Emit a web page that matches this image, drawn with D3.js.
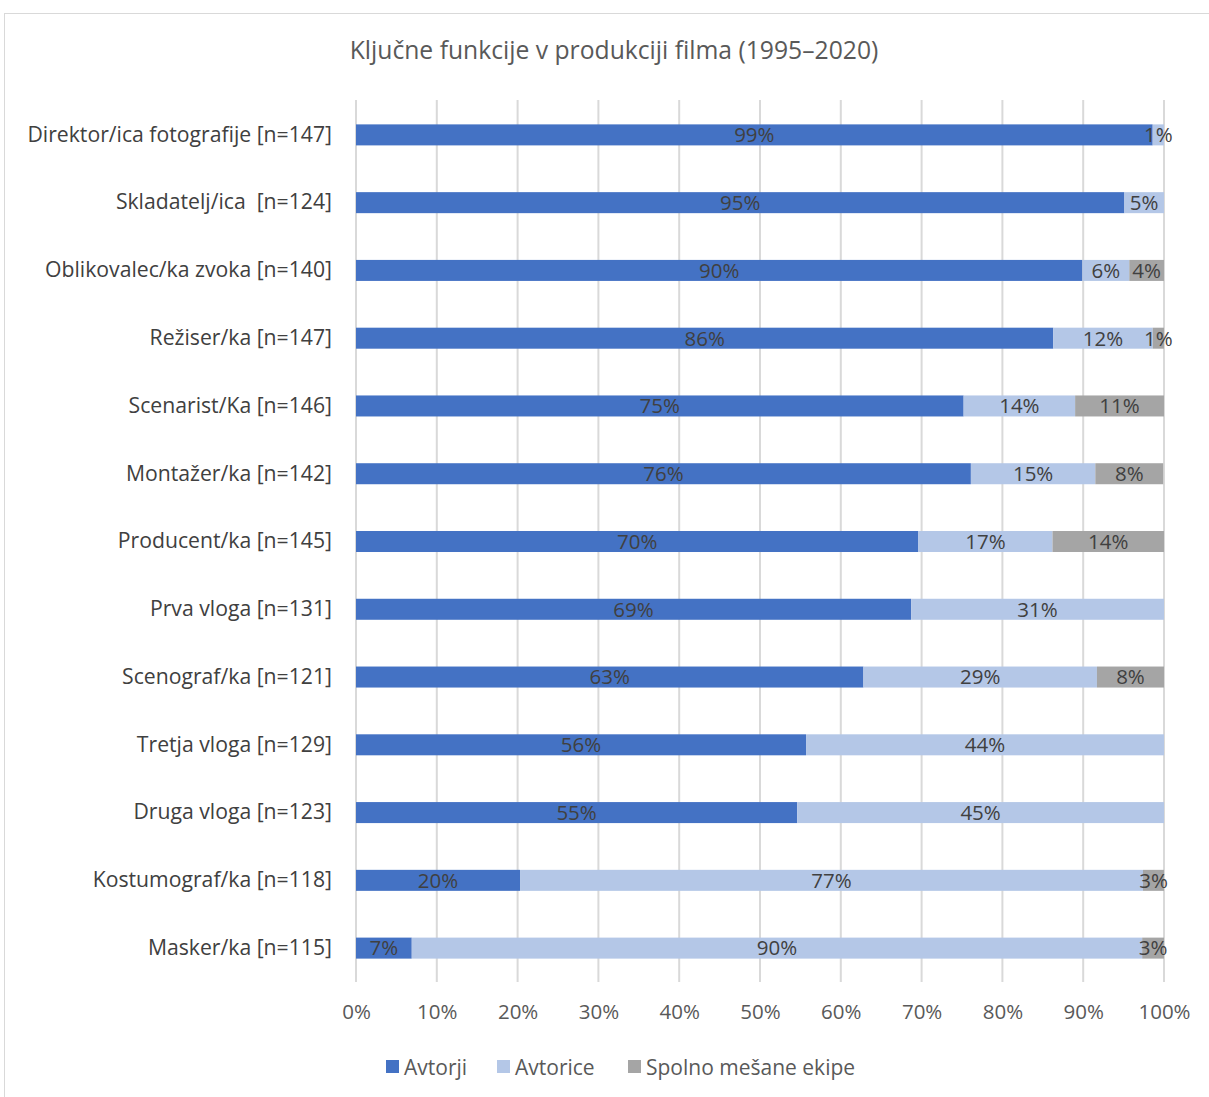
<!DOCTYPE html>
<html>
<head>
<meta charset="utf-8">
<script src="https://cdn.jsdelivr.net/npm/d3@7"></script>
<style>
  body { margin: 0; background: #fff; }
  text { font-family: "Open Sans", "Noto Sans", sans-serif; white-space: pre; }
</style>
</head>
<body>
<svg></svg>
<script>
// Data
const categories = [
  "Direktor/ica fotografije [n=147]",
  "Skladatelj/ica  [n=124]",
  "Oblikovalec/ka zvoka [n=140]",
  "Režiser/ka [n=147]",
  "Scenarist/Ka [n=146]",
  "Montažer/ka [n=142]",
  "Producent/ka [n=145]",
  "Prva vloga [n=131]",
  "Scenograf/ka [n=121]",
  "Tretja vloga [n=129]",
  "Druga vloga [n=123]",
  "Kostumograf/ka [n=118]",
  "Masker/ka [n=115]"
];
const avtorji  = [98.6, 95.1, 89.9, 86.3, 75.2, 76.1, 69.6, 68.7, 62.8, 55.7, 54.6, 20.3, 6.9];
const avtorice = [1.4, 4.9, 5.8, 12.3, 13.8, 15.4, 16.6, 31.3, 28.9, 44.3, 45.4, 77.1, 90.4];
const mesane   = [0, 0, 4.3, 1.4, 11.0, 8.4, 13.8, 0, 8.3, 0, 0, 2.6, 2.7];
const seriesNames = ["Avtorji", "Avtorice", "Spolno mešane ekipe"];
const seriesColors = ["#4472C4", "#B4C7E7", "#A5A5A5"];
const ticks = [0, 10, 20, 30, 40, 50, 60, 70, 80, 90, 100];

const svgWidth = 1209;
const svgHeight = 1097;
const margin = { top: 101, right: 45, bottom: 115, left: 356 };
const width = svgWidth - margin.left - margin.right;
const height = svgHeight - margin.top - margin.bottom;

const root = d3.select("svg")
    .attr("width", svgWidth)
    .attr("height", svgHeight);

// chart frame
root.append("rect")
    .attr("x", 4.5).attr("y", 13.5)
    .attr("width", svgWidth + 10).attr("height", svgHeight + 10)
    .attr("fill", "none")
    .attr("stroke", "#D9D9D9")
    .attr("stroke-width", 1);

// title
root.append("text")
    .attr("x", 614)
    .attr("y", 59)
    .attr("text-anchor", "middle")
    .style("font-size", "24.7px")
    .style("fill", "#595959")
    .text("Ključne funkcije v produkciji filma (1995–2020)");

const svg = root.append("g")
    .attr("transform", `translate(${margin.left},${margin.top})`);

const x = d3.scaleLinear().domain([0, 100]).range([0, width]);
const y = d3.scaleBand().domain(categories).range([0, height])
    .paddingInner(0.69).paddingOuter(0.345);

// gridlines
svg.append("g")
    .selectAll("line")
    .data(ticks)
    .enter()
    .append("line")
    .attr("x1", d => x(d))
    .attr("x2", d => x(d))
    .attr("y1", -1)
    .attr("y2", height)
    .attr("stroke", "#D9D9D9")
    .attr("stroke-width", 2);

// x axis labels
const xAxis = svg.append("g")
    .attr("transform", `translate(0,${height})`)
    .call(d3.axisBottom(x).tickValues(ticks).tickSize(0).tickPadding(22).tickFormat(d => d + "%"));
xAxis.select(".domain").remove();
xAxis.selectAll("text")
    .style("font-size", "20.5px")
    .style("font-family", "'Open Sans', sans-serif")
    .style("fill", "#595959");

// y axis labels
const yAxis = svg.append("g")
    .call(d3.axisLeft(y).tickSize(0).tickPadding(24));
yAxis.select(".domain").remove();
yAxis.selectAll("text")
    .style("font-size", "21.2px")
    .style("font-family", "'Open Sans', sans-serif")
    .style("white-space", "pre")
    .style("fill", "#404040");

// stack the series
const rows = categories.map((c, i) => ({ cat: c, values: [avtorji[i], avtorice[i], mesane[i]] }));
const segments = [];
rows.forEach(r => {
    let acc = 0;
    r.values.forEach((v, k) => {
        segments.push({ cat: r.cat, k: k, x0: acc, x1: acc + v, v: v });
        acc += v;
    });
});

svg.selectAll(".seg")
    .data(segments.filter(d => d.v > 0))
    .enter()
    .append("rect")
    .attr("class", "seg")
    .attr("x", d => x(d.x0))
    .attr("y", d => y(d.cat))
    .attr("width", d => x(d.x1) - x(d.x0))
    .attr("height", y.bandwidth())
    .attr("fill", d => seriesColors[d.k]);

// data labels
svg.selectAll(".lbl")
    .data(segments.filter(d => d.v > 0))
    .enter()
    .append("text")
    .attr("class", "lbl")
    .attr("x", d => x((d.x0 + d.x1) / 2))
    .attr("y", d => y(d.cat) + y.bandwidth() / 2)
    .attr("dy", "0.36em")
    .attr("text-anchor", "middle")
    .style("font-size", "20.5px")
    .style("fill", "#404040")
    .text(d => Math.round(d.v) + "%");

// legend
const legendX = [386, 497, 628];
const legend = root.append("g").attr("transform", "translate(0,1067)");
seriesNames.forEach((name, i) => {
    legend.append("rect")
        .attr("x", legendX[i])
        .attr("y", -7)
        .attr("width", 13)
        .attr("height", 13)
        .attr("fill", seriesColors[i]);
    legend.append("text")
        .attr("x", legendX[i] + 18)
        .attr("y", 0)
        .attr("dy", "0.36em")
        .style("font-size", "21px")
        .style("fill", "#595959")
        .text(name);
});
</script>
</body>
</html>
